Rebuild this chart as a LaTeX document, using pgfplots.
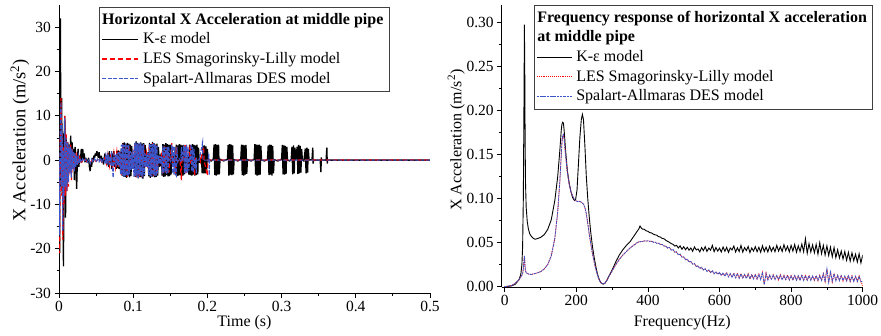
\documentclass[border=0pt]{standalone}
\usepackage{fontspec}
\setmainfont{Liberation Serif}
\usepackage{pgfplots}
\pgfplotsset{compat=1.18}
\usepackage{pgfplotstable}
\definecolor{sablue}{RGB}{60,85,200}
\definecolor{lesred}{RGB}{255,0,0}

\pgfplotsset{
 originstyle/.style={
  scale only axis,
  axis x line*=bottom, axis y line*=left,
  axis line style={-, line width=0.8pt, black},
  tick align=outside, major tick length=4.5pt, minor tick length=2.5pt,
  tick style={line width=0.8pt, black},
  ticklabel style={font=\fontsize{15.5}{18}\selectfont},
  /pgf/number format/assume math mode=true,
  /pgf/number format/1000 sep={},
  scaled ticks=false,
  label style={font=\fontsize{16}{19}\selectfont},
  legend cell align=left,
  legend style={font=\fontsize{16}{19}\selectfont, draw=black!75, line width=0.8pt,
    inner xsep=2pt, inner ysep=2.5pt, row sep=0pt,
    nodes={inner xsep=4pt, inner ysep=2.1pt, text height=12pt, text depth=3.5pt}},
  legend image code/.code={\draw[#1] (0pt,0pt) -- (36pt,0pt);},
 }
}

\pgfplotstableread{
f k les des
0 0.0000 0.0000 0.0000
10 0.0004 0.0005 0.0005
20 0.0010 0.0015 0.0015
30 0.0030 0.0040 0.0040
40 0.0080 0.0080 0.0080
45 0.0140 0.0110 0.0110
48 0.0250 0.0130 0.0130
50 0.0450 0.0150 0.0150
52 0.1000 0.0200 0.0200
54 0.2200 0.0300 0.0300
55 0.2980 0.0350 0.0350
56 0.2500 0.0300 0.0300
57 0.1700 0.0220 0.0220
58 0.1200 0.0180 0.0180
60 0.0900 0.0160 0.0160
63 0.0740 0.0150 0.0150
66 0.0660 0.0145 0.0145
70 0.0600 0.0140 0.0140
75 0.0570 0.0140 0.0140
80 0.0550 0.0145 0.0145
85 0.0540 0.0150 0.0150
90 0.0545 0.0155 0.0155
100 0.0560 0.0170 0.0170
110 0.0590 0.0200 0.0200
120 0.0650 0.0250 0.0250
130 0.0760 0.0350 0.0350
140 0.0980 0.0550 0.0550
148 0.1250 0.0850 0.0850
154 0.1550 0.1200 0.1200
158 0.1780 0.1500 0.1500
160 0.1850 0.1650 0.1650
162 0.1870 0.1720 0.1720
164 0.1860 0.1730 0.1730
166 0.1780 0.1680 0.1680
170 0.1550 0.1500 0.1500
175 0.1320 0.1300 0.1300
180 0.1180 0.1170 0.1170
185 0.1080 0.1080 0.1080
190 0.1010 0.1030 0.1030
195 0.0980 0.0990 0.0990
198 0.0990 0.0980 0.0980
202 0.1100 0.0970 0.0970
206 0.1400 0.0970 0.0970
210 0.1700 0.0970 0.0970
214 0.1900 0.0960 0.0960
217 0.1960 0.0950 0.0950
220 0.1900 0.0940 0.0940
224 0.1600 0.0900 0.0900
228 0.1250 0.0830 0.0830
232 0.1000 0.0720 0.0720
236 0.0800 0.0600 0.0600
240 0.0630 0.0500 0.0500
245 0.0460 0.0380 0.0380
250 0.0330 0.0280 0.0280
255 0.0220 0.0190 0.0190
260 0.0130 0.0120 0.0120
265 0.0070 0.0070 0.0070
270 0.0040 0.0040 0.0040
275 0.0030 0.0030 0.0030
280 0.0040 0.0040 0.0040
285 0.0070 0.0070 0.0070
290 0.0110 0.0110 0.0110
300 0.0190 0.0180 0.0180
310 0.0280 0.0250 0.0250
320 0.0360 0.0310 0.0310
330 0.0420 0.0360 0.0360
340 0.0470 0.0400 0.0400
350 0.0510 0.0440 0.0440
360 0.0570 0.0470 0.0470
370 0.0630 0.0500 0.0500
375 0.0660 0.0510 0.0510
378 0.0690 0.0510 0.0510
382 0.0665 0.0515 0.0515
385 0.0655 0.0513 0.0515
390 0.0652 0.0522 0.0520
395 0.0635 0.0520 0.0518
400 0.0630 0.0520 0.0522
405 0.0615 0.0517 0.0515
410 0.0612 0.0516 0.0518
415 0.0598 0.0507 0.0505
420 0.0590 0.0505 0.0508
425 0.0585 0.0495 0.0492
430 0.0568 0.0492 0.0495
435 0.0565 0.0482 0.0478
440 0.0548 0.0478 0.0482
445 0.0545 0.0465 0.0460
450 0.0528 0.0460 0.0465
455 0.0515 0.0442 0.0438
460 0.0505 0.0444 0.0448
465 0.0490 0.0420 0.0415
470 0.0482 0.0420 0.0425
475 0.0462 0.0395 0.0390
480 0.0470 0.0392 0.0398
485 0.0440 0.0366 0.0360
490 0.0465 0.0365 0.0372
495 0.0425 0.0340 0.0335
500 0.0455 0.0336 0.0340
505 0.0420 0.0312 0.0305
510 0.0448 0.0308 0.0315
515 0.0415 0.0285 0.0280
520 0.0440 0.0282 0.0288
525 0.0402 0.0262 0.0255
530 0.0452 0.0258 0.0265
535 0.0418 0.0235 0.0228
540 0.0430 0.0232 0.0240
545 0.0395 0.0212 0.0205
550 0.0445 0.0215 0.0222
555 0.0410 0.0195 0.0188
560 0.0455 0.0198 0.0205
565 0.0400 0.0178 0.0172
570 0.0440 0.0185 0.0192
575 0.0415 0.0165 0.0160
580 0.0470 0.0175 0.0182
585 0.0398 0.0152 0.0145
590 0.0445 0.0165 0.0170
595 0.0405 0.0145 0.0140
600 0.0438 0.0158 0.0162
605 0.0395 0.0132 0.0128
610 0.0452 0.0150 0.0158
615 0.0402 0.0125 0.0120
620 0.0448 0.0160 0.0155
625 0.0390 0.0115 0.0112
630 0.0440 0.0145 0.0150
635 0.0418 0.0110 0.0105
640 0.0462 0.0152 0.0148
645 0.0395 0.0098 0.0100
650 0.0442 0.0145 0.0150
655 0.0400 0.0100 0.0095
660 0.0470 0.0150 0.0145
665 0.0392 0.0095 0.0098
670 0.0445 0.0138 0.0140
675 0.0410 0.0098 0.0092
680 0.0458 0.0145 0.0142
685 0.0388 0.0088 0.0090
690 0.0440 0.0140 0.0135
695 0.0405 0.0092 0.0088
700 0.0455 0.0135 0.0140
705 0.0398 0.0090 0.0085
710 0.0448 0.0142 0.0138
715 0.0392 0.0085 0.0080
720 0.0465 0.0160 0.0165
725 0.0400 0.0030 0.0020
730 0.0450 0.0155 0.0150
735 0.0395 0.0080 0.0075
740 0.0460 0.0128 0.0132
745 0.0402 0.0082 0.0085
750 0.0448 0.0135 0.0130
755 0.0398 0.0085 0.0080
760 0.0470 0.0125 0.0128
765 0.0405 0.0078 0.0082
770 0.0455 0.0135 0.0130
775 0.0400 0.0082 0.0078
780 0.0478 0.0128 0.0125
785 0.0410 0.0075 0.0080
790 0.0460 0.0132 0.0128
795 0.0395 0.0080 0.0075
800 0.0470 0.0125 0.0122
805 0.0405 0.0075 0.0078
810 0.0480 0.0130 0.0128
815 0.0392 0.0078 0.0072
820 0.0465 0.0120 0.0125
825 0.0400 0.0072 0.0075
830 0.0485 0.0135 0.0130
835 0.0398 0.0075 0.0070
840 0.0545 0.0125 0.0128
845 0.0380 0.0070 0.0072
850 0.0490 0.0130 0.0125
855 0.0395 0.0075 0.0070
860 0.0475 0.0118 0.0122
865 0.0385 0.0072 0.0075
870 0.0480 0.0125 0.0120
875 0.0370 0.0070 0.0072
880 0.0500 0.0128 0.0125
885 0.0375 0.0075 0.0070
890 0.0470 0.0145 0.0150
895 0.0360 0.0060 0.0055
900 0.0465 0.0200 0.0205
905 0.0355 0.0050 0.0045
910 0.0450 0.0175 0.0170
915 0.0340 0.0055 0.0060
920 0.0445 0.0150 0.0145
925 0.0330 0.0070 0.0065
930 0.0420 0.0125 0.0130
935 0.0325 0.0072 0.0068
940 0.0405 0.0130 0.0125
945 0.0315 0.0065 0.0070
950 0.0400 0.0118 0.0122
955 0.0300 0.0070 0.0065
960 0.0390 0.0128 0.0125
965 0.0290 0.0060 0.0062
970 0.0385 0.0122 0.0118
975 0.0295 0.0065 0.0060
980 0.0370 0.0115 0.0120
985 0.0280 0.0062 0.0058
990 0.0375 0.0120 0.0115
995 0.0270 0.0055 0.0060
1000 0.0360 0.0010 0.0060
}\freqdata

\begin{document}
\begin{tikzpicture}[x=1pt,y=1pt]
\useasboundingbox (0,0) rectangle (881,335);

% ---------------- left panel ----------------
\begin{axis}[originstyle,
  at={(59pt,42pt)}, anchor=south west,
  width=371pt, height=288pt,
  xmin=0, xmax=0.5, ymin=-30, ymax=35,
  xtick={0,0.1,0.2,0.3,0.4,0.5},
  minor xtick={0.05,0.15,0.25,0.35,0.45},
  ytick={-30,-20,-10,0,10,20,30},
  minor ytick={-25,-15,-5,5,15,25},
  xlabel={Time (s)},
  ylabel={X Acceleration (m/s\textsuperscript{2})},
  xlabel style={at={(axis description cs:0.5,-0.104)}, anchor=center},
  ylabel style={at={(axis description cs:-0.105,0.531)}, anchor=center, font=\fontsize{18.4}{21}\selectfont},
  legend style={at={(axis description cs:0.108,0.993)}, anchor=north west},
]
\addlegendimage{empty legend}
\addlegendentry{\hspace*{-41pt}\textbf{Horizontal X Acceleration at middle pipe}}

\addplot[color=black, line width=1.35pt, line join=miter, miter limit=2] coordinates {
(0,0)(0.0008,-21)(0.0018,32)(0.0028,-6)(0.0036,14)(0.0044,-8)(0.0052,6)(0.006,-24)(0.0068,3)(0.0078,10)(0.0088,-13)(0.0098,5)(0.0108,-6)(0.0118,4)(0.0128,-3)(0.0138,3.5)(0.0148,-2)(0.0158,5.5)(0.0168,-3)(0.0178,4)(0.0188,-2)(0.0198,2.5)(0.0208,-4.5)(0.0218,3)(0.0228,-1)(0.0238,-6.5)(0.0248,0.5)(0.0258,2.5)(0.0268,-1.5)(0.0278,1)(0.0288,-0.5)(0.030,2.5)(0.031,-0.5)(0.032,2.5)(0.033,0)(0.034,1.5)(0.035,-0.5)(0.036,0.5)(0.038,-0.5)(0.040,0.5)(0.041,-1.5)(0.042,-2.5)(0.043,-0.5)(0.044,-1.5)(0.045,0.5)(0.046,-0.5)(0.047,1)(0.048,0.5)(0.049,1.5)(0.050,1)(0.051,2)(0.052,1.5)(0.053,0.5)(0.054,1.8)(0.055,0.5)(0.056,0)(0.057,1)(0.058,-0.5)(0.059,0.5)(0.060,-1)(0.061,0.5)(0.062,1.5)(0.063,-0.5)(0.064,1)(0.065,-1)(0.066,1.5)(0.067,-1.5)(0.068,2)(0.069,-1)(0.070,1)(0.071,-2)(0.072,1.5)(0.073,-1)(0.074,2)(0.075,-1.5)(0.076,1)(0.077,-2)
(0.078,2.0)(0.079,-1.8)(0.080,2.2)(0.081,-2.0)(0.082,1.8)(0.083,-2.2)(0.084,2.5)(0.085,-3.5)(0.086,3.8)(0.087,-3.6)(0.088,4.0)(0.089,-3.8)(0.090,3.6)(0.091,-4.0)(0.092,3.9)(0.093,-3.5)(0.094,3.7)(0.095,-3.9)(0.096,3.5)(0.097,-3.6)(0.098,3.2)(0.099,-1.5)(0.100,1.2)(0.101,-1.8)(0.102,1.5)(0.103,-3.8)(0.104,4.2)(0.105,-3.7)(0.106,3.9)(0.107,-4.1)(0.108,3.6)(0.109,-3.8)(0.110,4.0)(0.111,-3.9)(0.112,3.7)(0.113,-4.2)(0.114,3.8)(0.115,-3.6)(0.116,3.4)(0.117,-1.5)(0.118,1.3)(0.119,-1.6)(0.120,1.8)(0.121,-3.7)(0.122,3.9)(0.123,-4.0)(0.124,3.6)(0.125,-3.8)(0.126,4.1)(0.127,-3.7)(0.128,3.8)(0.129,-3.9)(0.130,3.5)(0.131,-3.8)(0.132,3.7)(0.133,-3.5)(0.134,3.0)(0.135,-1.5)(0.136,1.2)(0.137,-1.4)(0.138,1.6)(0.139,-3.5)(0.140,3.6)(0.141,-3.8)(0.142,3.5)(0.143,-3.7)(0.144,3.8)(0.145,-3.4)(0.146,3.6)(0.147,-3.7)(0.148,3.4)(0.149,-3.6)(0.150,3.5)(0.151,-3.3)(0.152,3.0)(0.153,-1.2)(0.154,1.0)(0.155,-1.3)(0.156,1.1)(0.157,-3.4)(0.158,3.5)(0.159,-3.6)(0.160,3.3)(0.161,-3.5)(0.162,3.6)(0.163,-3.4)(0.164,3.5)(0.165,-3.6)(0.166,3.3)(0.167,-3.5)(0.168,3.4)(0.169,-3.2)(0.170,2.8)(0.171,-0.8)(0.172,0.6)(0.173,-0.9)(0.174,0.7)(0.175,-3.3)(0.176,3.5)(0.177,-3.4)(0.178,3.3)(0.179,-3.5)(0.180,3.6)(0.181,-3.3)(0.182,3.4)(0.183,-3.5)(0.184,3.3)(0.185,-3.4)(0.186,3.5)(0.187,-3.2)(0.188,2.8)(0.189,-0.6)(0.190,0.5)(0.191,-0.7)(0.192,0.6)(0.193,-3.0)(0.194,3.2)(0.195,-3.0)(0.196,3.3)(0.197,-3.0)(0.198,3.1)(0.199,-2.8)(0.200,2.5)(0.201,-0.3)
(0.202,0.2)(0.205,-0.2)(0.208,0.2)
(0.209,3.5)(0.210,-3.4)(0.211,3.6)(0.212,-3.5)(0.213,3.4)(0.214,-3.3)(0.215,3.5)(0.216,-3.2)(0.217,0.2)
(0.222,-0.2)(0.227,0.2)
(0.228,3.4)(0.229,-3.5)(0.230,3.6)(0.231,-3.3)(0.232,3.5)(0.233,-3.4)(0.234,3.3)(0.235,-3.2)(0.236,0.1)
(0.241,-0.2)(0.245,0.2)
(0.246,3.5)(0.247,-3.4)(0.248,3.4)(0.249,-3.5)(0.250,3.3)(0.251,-3.3)(0.252,3.4)(0.253,-3.1)(0.254,0.1)
(0.259,-0.2)(0.263,0.2)
(0.264,3.6)(0.265,-3.3)(0.266,3.5)(0.267,-3.5)(0.268,3.4)(0.269,-3.4)(0.270,3.5)(0.271,-3.3)(0.272,3.2)(0.273,0)
(0.277,-0.2)(0.281,0.2)
(0.282,3.3)(0.283,-3.4)(0.284,3.5)(0.285,-3.3)(0.286,3.4)(0.287,-3.5)(0.288,3.2)(0.289,-3.0)(0.290,0.1)
(0.295,-0.2)(0.300,0.2)
(0.301,3.4)(0.302,-3.2)(0.303,3.3)(0.304,-3.3)(0.305,3.2)(0.306,-3.1)(0.307,3.0)(0.308,0)
(0.311,-0.2)(0.313,0.2)
(0.314,3.0)(0.315,-3.2)(0.316,3.3)(0.317,-3.0)(0.318,2.8)(0.319,0)
(0.321,3.0)(0.322,-3.1)(0.323,3.4)(0.324,-3.0)(0.325,3.2)(0.326,-2.8)(0.327,2.5)(0.328,0)
(0.330,-0.2)(0.332,2.6)(0.333,-3.0)(0.334,2.8)(0.335,-2.8)(0.336,2.5)(0.337,0)
(0.341,0.1)(0.342,2.8)(0.3425,-0.8)(0.343,0)
(0.352,0)(0.353,-2.7)(0.3535,0.6)(0.354,0)
(0.360,0)(0.361,2.8)(0.3615,-0.8)(0.362,0)(0.5,0)
};
\addlegendentry{K-ε model}

\addplot[color=lesred, line width=1.2pt, dash pattern=on 4.5pt off 2.5pt, forget plot] coordinates {
(0,0)(0.0008,-21)(0.0018,5)(0.0028,14)(0.0036,-8)(0.0044,6)(0.0052,-18)(0.006,3)(0.0068,-10)(0.0078,10)(0.0088,-8)(0.0098,6)(0.0108,-7)(0.0118,4)(0.0128,-6)(0.0138,3)(0.0148,-3)(0.0158,3.5)(0.0168,-4.5)(0.0178,2.5)(0.0188,-2)(0.0198,1.5)(0.0208,-2.5)(0.0218,1.5)(0.0228,-1)(0.024,1)(0.026,-0.8)(0.028,0.6)(0.030,-0.5)(0.034,0.3)(0.038,-0.4)(0.042,-0.6)(0.046,0.2)(0.050,-0.3)(0.054,0.4)(0.058,-0.5)(0.062,0.6)(0.064,-0.8)(0.066,1.2)(0.068,-1.2)(0.070,1.5)(0.072,-2)(0.074,1.5)(0.076,-1.5)(0.078,1.8)(0.080,-1.5)(0.082,2)
(0.084,-3.4)(0.086,3.7)(0.088,-3.5)(0.090,3.6)(0.092,-3.8)(0.094,3.4)(0.096,-2.0)(0.098,2.1)(0.100,-2.0)(0.102,3.8)(0.104,-3.9)(0.106,3.8)(0.108,-4.0)(0.110,3.7)(0.112,-3.8)(0.114,3.6)(0.116,-1.6)(0.118,1.5)(0.120,-1.8)(0.122,3.6)(0.124,-3.7)(0.126,3.8)(0.128,-3.6)(0.130,3.5)(0.132,-3.4)(0.134,1.0)(0.136,-0.9)(0.138,1.0)(0.140,-3.2)(0.142,3.3)(0.144,-3.0)(0.146,3.0)(0.148,-2.8)(0.150,0.5)(0.152,3.8)(0.153,-0.5)(0.155,0.4)(0.157,-3.2)(0.158,3.0)(0.160,-0.3)(0.163,0.2)(0.165,-4.5)(0.1655,0.5)(0.167,0)(0.170,3.4)(0.171,-3.0)(0.172,3.2)(0.173,-2.5)(0.174,0)(0.177,3.5)(0.1775,-0.5)(0.180,0)(0.183,-3.5)(0.1835,0.4)(0.186,0)(0.190,0.3)(0.1905,-0.3)(0.195,3.0)(0.1955,0)(0.200,-3.5)(0.2005,0)(0.5,0)
};
\addlegendimage{color=lesred, draw=lesred, line width=1.6pt, dash pattern=on 5pt off 3pt}
\addlegendentry{LES Smagorinsky-Lilly model}

\addplot[color=sablue, line width=1.1pt, dash pattern=on 4pt off 1.5pt] coordinates {
(0,0)(0.0006,-17)(0.0016,6)(0.0026,13)(0.0034,-6)(0.0042,8)(0.005,-16)(0.0058,2)(0.0066,-9)(0.0076,9.5)(0.0086,-6)(0.0096,5)(0.0106,-7)(0.0116,4)(0.0126,-5)(0.0136,3.5)(0.0146,-3)(0.0156,3)(0.0166,-4)(0.0176,2.5)(0.0186,-2)(0.0196,2)(0.0206,-2.5)(0.0216,1.5)(0.0226,-1.5)(0.0236,1)(0.0246,-1.2)(0.026,0.8)(0.027,-0.8)(0.028,0.5)(0.030,-0.5)(0.032,0.3)(0.034,-0.3)(0.036,0.2)(0.038,-0.5)(0.040,0)(0.042,-0.8)(0.044,0.2)(0.046,-0.5)(0.048,0.3)(0.050,-0.3)(0.052,0.2)(0.054,-0.4)(0.056,0.5)(0.058,-0.6)(0.060,0.3)(0.062,-0.5)(0.063,0.8)(0.064,-0.8)(0.065,1)(0.066,-0.5)(0.067,1.2)(0.068,-1)(0.069,0.8)(0.070,-1.2)(0.071,2)(0.072,-2)(0.073,-4)(0.074,1.5)(0.075,-1)(0.076,1.2)(0.077,-1.5)(0.078,1.5)(0.079,-1.2)(0.080,1.8)(0.081,-1.5)(0.082,2)
(0.083,-3.2)(0.084,3.5)(0.085,-3.4)(0.086,3.6)(0.087,-3.8)(0.088,3.4)(0.089,-3.6)(0.090,3.8)(0.091,-3.5)(0.092,3.3)(0.093,-3.7)(0.094,3.5)(0.095,-3.2)(0.096,2.0)(0.097,-2.2)(0.098,1.8)(0.099,-2.0)(0.100,2.2)(0.101,-3.8)(0.102,3.9)(0.103,-3.6)(0.104,4.0)(0.105,-3.9)(0.106,3.7)(0.107,-4.0)(0.108,3.8)(0.109,-3.6)(0.110,3.9)(0.111,-3.8)(0.112,3.5)(0.113,-3.9)(0.114,3.6)(0.115,-3.4)(0.116,1.5)(0.117,-1.6)(0.118,1.2)(0.119,-1.5)(0.120,1.8)(0.121,-3.4)(0.122,3.7)(0.123,-3.6)(0.124,3.5)(0.125,-3.8)(0.126,3.6)(0.127,-3.4)(0.128,3.8)(0.129,-3.5)(0.130,3.4)(0.131,-3.6)(0.132,3.2)(0.133,-3.0)(0.134,1.0)(0.135,-0.8)(0.136,1.0)(0.137,-0.9)(0.138,0.8)
(0.139,-3.2)(0.140,3.3)(0.141,-3.0)(0.142,3.2)(0.143,-2.8)(0.144,3.0)(0.145,-3.1)(0.146,2.9)(0.147,-3.0)(0.148,3.1)(0.149,0.3)(0.150,-0.3)(0.151,0.3)
(0.152,3.5)(0.153,-3.0)(0.154,3.2)(0.155,-3.3)(0.156,3.0)(0.157,-3.1)(0.158,-3.5)(0.159,3.0)(0.160,-0.4)(0.162,0.3)(0.164,-0.2)(0.165,3.0)(0.166,-0.3)
(0.168,3.3)(0.169,-3.0)(0.170,3.2)(0.171,-3.1)(0.172,3.5)(0.173,-2.8)(0.174,3.0)(0.175,-2.5)(0.176,0.2)(0.177,-0.2)
(0.178,3.6)(0.179,-2.5)(0.180,3.0)(0.181,-2.8)(0.182,2.5)(0.183,-2.0)(0.184,0.1)(0.185,-3.0)(0.1855,0.3)(0.187,0)(0.189,0)(0.1935,4.0)(0.194,0)(0.201,0)(0.202,1.5)(0.2025,-3.4)(0.203,0)(0.5,0)
};
\addlegendentry{Spalart-Allmaras DES model}
\end{axis}

% ---------------- right panel ----------------
\begin{axis}[originstyle,
  at={(501.7pt,47.7pt)}, anchor=south west,
  width=361pt, height=282pt,
  xmin=-8.4, xmax=1000, ymin=-0.0007, ymax=0.32,
  xtick={0,200,400,600,800,1000},
  minor xtick={100,300,500,700,900},
  ytick={0,0.05,0.1,0.15,0.2,0.25,0.3},
  minor ytick={0.025,0.075,0.125,0.175,0.225,0.275},
  yticklabel style={/pgf/number format/.cd, fixed, fixed zerofill, precision=2},
  xlabel={Frequency(Hz)},
  ylabel={X Acceleration (m/s\textsuperscript{2})},
  xlabel style={at={(axis description cs:0.5,-0.127)}, anchor=center},
  ylabel style={at={(axis description cs:-0.126,0.522)}, anchor=center},
  legend style={at={(axis description cs:0.0895,1.001)}, anchor=north west},
  legend image code/.code={\draw[#1] (0pt,0pt) -- (35pt,0pt);},
]
\addlegendimage{empty legend}
\addlegendentry{\hspace*{-39pt}\textbf{Frequency response of horizontal X acceleration}}
\addlegendimage{empty legend}
\addlegendentry{\hspace*{-39pt}\textbf{at middle pipe}}
\addplot[color=black, line width=0.9pt] table[x=f,y=k] {\freqdata};
\addlegendentry{K-ε model}
\addplot[color=lesred, line width=0.9pt, densely dotted] table[x=f,y=les] {\freqdata};
\addlegendentry{LES Smagorinsky-Lilly model}
\addplot[color=sablue, line width=0.75pt, dash pattern=on 2.5pt off 0.8pt] table[x=f,y=des] {\freqdata};
\addlegendentry{Spalart-Allmaras DES model}
\end{axis}
\end{tikzpicture}
\end{document}
